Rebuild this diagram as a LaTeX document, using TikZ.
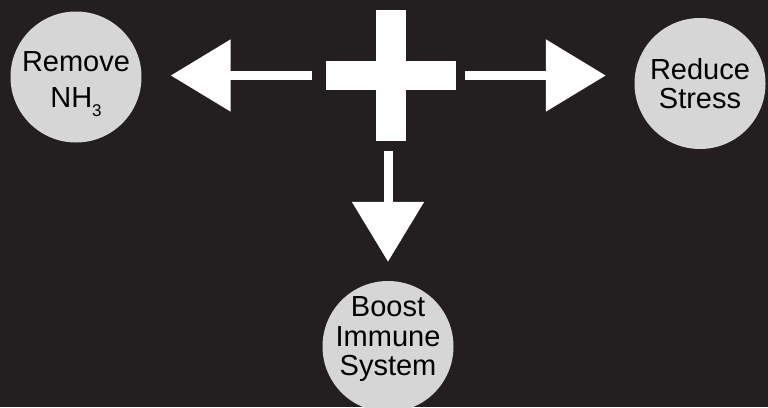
\documentclass[tikz,border=0pt]{standalone}
\usepackage{fontspec}
\setmainfont{Liberation Sans}
\usetikzlibrary{arrows.meta}
\definecolor{boardbg}{HTML}{231F20}
\definecolor{bubblegray}{HTML}{D6D6D6}
\newcommand{\lowsub}[1]{\raisebox{-9pt}{\fontsize{17}{17}\selectfont #1}}

\begin{document}
\begin{tikzpicture}[
    x=1pt, y=-1pt,
    bubble node/.style={circle,fill=bubblegray,minimum size=131pt,inner sep=0pt},
    bubble text/.style={text=black,align=center,inner sep=0pt,
                        font=\fontsize{29}{29.5}\selectfont},
    plus node/.style={minimum width=130pt,minimum height=130pt,inner sep=0pt},
    big arrow/.style={-{Triangle[length=60pt,width=70pt]},line width=9pt,white}]

  \fill[boardbg] (0,0) rectangle (768,407);
  \useasboundingbox (0,0) rectangle (768,407);

  % the plus sign
  \node[plus node] (Plus) at (391,75.5) {};
  \fill[white] ([yshift=14.5pt]Plus.west) rectangle ([yshift=-14.5pt]Plus.east);
  \fill[white] ([xshift=-15pt]Plus.north) rectangle ([xshift=15pt]Plus.south);

  % the three goals
  \node[bubble node,label={[bubble text,yshift=-7.5pt]center:{Remove\\[6.5pt]NH\lowsub{3}}}]
      (Remove) at (76,77) {};
  \node[bubble node,label={[bubble text]center:{Reduce\\Stress}}]
      (Stress) at (700,83.5) {};
  \node[bubble node,label={[bubble text,yshift=7pt]center:{Boost\\Immune\\System}}]
      (Immune) at (388,346.5) {};

  \path
    (Plus.west)
         edge[big arrow,shorten <=14pt,shorten >=29pt] (Plus.west -| Remove.east)
    (Plus.east)
         edge[big arrow,shorten <=9pt,shorten >=28.5pt] (Plus.east -| Stress.west)
    (Plus.south -| Immune.north)
         edge[big arrow,shorten <=10.5pt,shorten >=19pt] (Immune.north);
\end{tikzpicture}
\end{document}
